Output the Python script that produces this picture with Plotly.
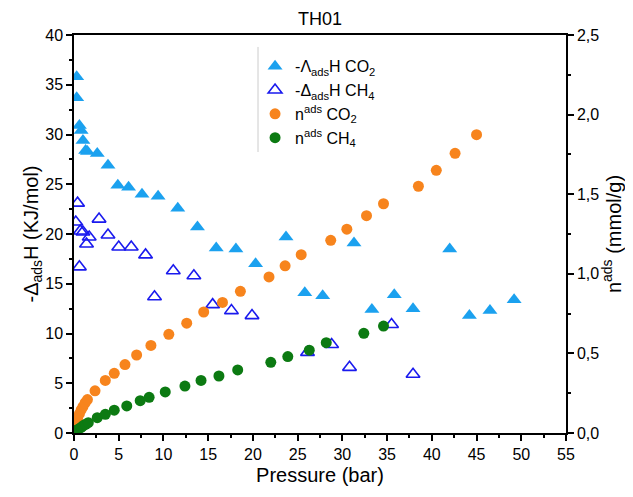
import plotly.graph_objects as go

# -ΔadsH CO2 (kJ/mol)
p_dh_co2 = [0.3, 0.3, 0.6, 0.8, 1.0, 1.3, 1.5, 2.6, 3.8, 4.9, 6.1, 7.6, 9.4, 11.6, 13.8,
            15.9, 18.1, 20.3, 23.7, 25.8, 27.8, 31.3, 33.3, 35.8, 37.9, 42.0, 44.2, 46.5, 49.2]
dh_co2 = [35.8, 33.7, 30.9, 30.4, 29.4, 28.4, 28.3, 28.1, 26.9, 24.9, 24.7, 24.0, 23.8, 22.6, 20.7,
          18.6, 18.5, 17.0, 19.7, 14.1, 13.8, 19.1, 12.4, 13.9, 12.5, 18.5, 11.8, 12.3, 13.4]

# -ΔadsH CH4 (kJ/mol)
p_dh_ch4 = [0.2, 0.4, 0.6, 0.7, 1.0, 1.4, 1.7, 2.8, 3.8, 5.0, 6.4, 8.0, 9.0, 11.1, 13.4,
            15.5, 17.6, 19.9, 26.1, 28.8, 30.8, 35.5, 37.9]
dh_ch4 = [21.2, 23.1, 16.7, 20.3, 20.2, 19.0, 19.7, 21.5, 19.9, 18.7, 18.7, 17.9, 13.7, 16.3, 15.8,
          12.9, 12.3, 11.8, 8.1, 8.9, 6.6, 10.9, 5.9]

# n_ads CO2 (mmol/g)
p_n_co2 = [0.1, 0.25, 0.4, 0.6, 0.8, 1.0, 1.25, 1.5, 2.35, 3.5, 4.5, 5.7, 7.0, 8.6, 10.6, 12.6,
           14.5, 16.6, 18.6, 21.8, 23.6, 25.4, 28.7, 30.5, 32.7, 34.6, 38.5, 40.5, 42.6, 45.0]
n_co2 = [0.03, 0.06, 0.09, 0.12, 0.145, 0.165, 0.19, 0.21, 0.265, 0.33, 0.375, 0.43, 0.49, 0.55,
         0.62, 0.69, 0.76, 0.82, 0.89, 0.98, 1.05, 1.12, 1.21, 1.28, 1.365, 1.44, 1.55, 1.65, 1.757, 1.874]

# n_ads CH4 (mmol/g)
p_n_ch4 = [0.2, 0.5, 0.8, 1.0, 1.3, 1.6, 2.6, 3.5, 4.5, 5.9, 7.4, 8.4, 10.2, 12.4, 14.2, 16.2,
           18.3, 22.0, 23.9, 26.3, 28.2, 32.4, 34.6]
n_ch4 = [0.015, 0.025, 0.035, 0.045, 0.055, 0.065, 0.096, 0.117, 0.143, 0.17, 0.203, 0.224, 0.258,
         0.295, 0.33, 0.358, 0.396, 0.444, 0.48, 0.52, 0.567, 0.626, 0.672]

x_ticks = list(range(0, 56, 5))
y_ticks = list(range(0, 41, 5))
y2_ticks = [0, 0.5, 1.0, 1.5, 2.0, 2.5]

FONT = "Liberation Sans, Arial, sans-serif"

fig = go.Figure()
fig.add_trace(go.Scatter(x=p_dh_co2, y=dh_co2, mode="markers",
                         name="-Λ<sub>ads</sub>H CO<sub>2</sub>",
                         marker=dict(symbol="triangle-up", size=13, color="#1ba1ef")))
fig.add_trace(go.Scatter(x=p_dh_ch4, y=dh_ch4, mode="markers",
                         name="-Δ<sub>ads</sub>H CH<sub>4</sub>",
                         marker=dict(symbol="triangle-up-open", size=12, color="#1a1aee",
                                     line=dict(width=1.6, color="#1a1aee"))))
fig.add_trace(go.Scatter(x=p_n_co2, y=n_co2, mode="markers", yaxis="y2",
                         name="n<sup>ads</sup> CO<sub>2</sub>",
                         marker=dict(symbol="circle", size=11, color="#f7841d")))
fig.add_trace(go.Scatter(x=p_n_ch4, y=n_ch4, mode="markers", yaxis="y2",
                         name="n<sup>ads</sup> CH<sub>4</sub>",
                         marker=dict(symbol="circle", size=11, color="#0c7a12")))

axis_common = dict(showgrid=False, zeroline=False, showline=True, linecolor="black",
                   linewidth=1.5, tickcolor="black", tickwidth=1.5, automargin=False,
                   tickfont=dict(family=FONT, size=16, color="black"))

fig.update_layout(
    width=625, height=489,
    margin=dict(l=66, r=67, t=27, b=64),
    paper_bgcolor="white", plot_bgcolor="white",
    separators=",.",
    font=dict(family=FONT, size=16, color="black"),
    title=dict(text="TH01", x=0.5, xref="paper", xanchor="center", y=0.978, yanchor="middle",
               font=dict(family=FONT, size=18, color="black")),
    showlegend=True,
    legend=dict(x=0.368, y=0.964, xanchor="left", yanchor="top", bgcolor="rgba(0,0,0,0)",
                font=dict(family=FONT, size=16, color="black"), tracegroupgap=0),
    xaxis=dict(range=[0, 55], tickvals=x_ticks, ticks="outside", ticklen=6, mirror=True,
               minor=dict(ticks="outside", ticklen=3, dtick=2.5, tickcolor="black", tickwidth=1.5),
               title=dict(text="Pressure (bar)", font=dict(family=FONT, size=20), standoff=6),
               **axis_common),
    xaxis2=dict(range=[0, 55], overlaying="x", side="top", tickvals=x_ticks, ticks="inside",
                ticklen=6, showticklabels=False,
                minor=dict(ticks="inside", ticklen=3, dtick=2.5, tickcolor="black", tickwidth=1.5),
                **axis_common),
    yaxis=dict(range=[0, 40], tickvals=y_ticks, ticks="outside", ticklen=6,
               minor=dict(ticks="outside", ticklen=3, dtick=2.5, tickcolor="black", tickwidth=1.5),
               title=dict(text="-Δ<sub>ads</sub>H (KJ/mol)", font=dict(family=FONT, size=20), standoff=1),
               **axis_common),
    yaxis2=dict(range=[0, 2.5], overlaying="y", side="right", tickvals=y2_ticks, tickformat=".1f",
                ticks="outside", ticklen=6,
                minor=dict(ticks="outside", ticklen=3, dtick=0.25, tickcolor="black", tickwidth=1.5),
                title=dict(text="n<sup>ads</sup> (mmol/g)", font=dict(family=FONT, size=20), standoff=4),
                **axis_common),
)

# light legend frame edge as in the reference
fig.add_shape(type="line", xref="paper", yref="paper", x0=0.374, x1=0.374, y0=0.706, y1=0.97,
              line=dict(color="#cccccc", width=1))

fig.write_html("out.html")
